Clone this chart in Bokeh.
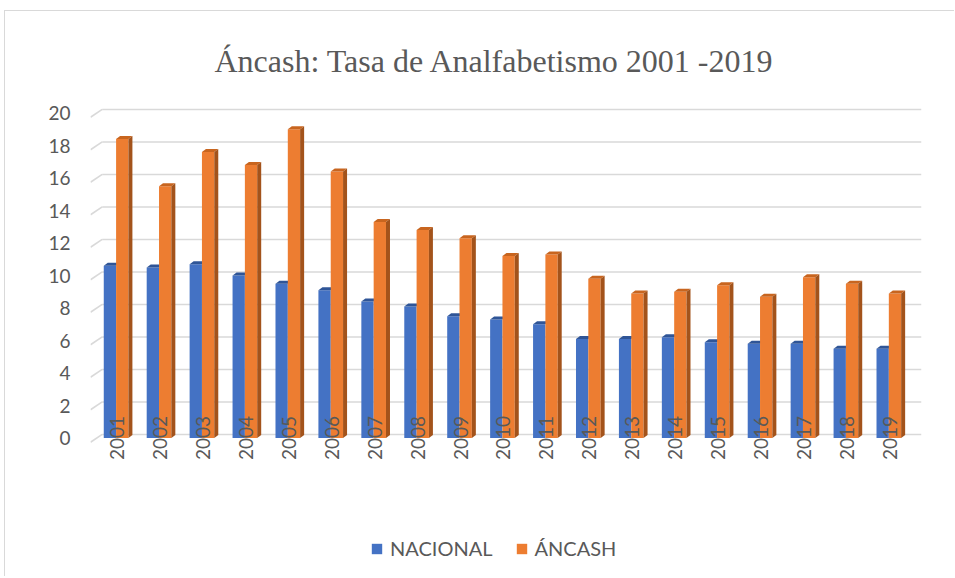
import numpy as np
from bokeh.plotting import figure
from bokeh.models import Range1d, FixedTicker, Legend, LegendItem
from bokeh.core.properties import value
from bokeh.embed import file_html
from bokeh.resources import INLINE

# ---- data ----
title_text = "Áncash: Tasa de Analfabetismo 2001 -2019"
years = ["2001", "2002", "2003", "2004", "2005", "2006", "2007", "2008", "2009", "2010",
         "2011", "2012", "2013", "2014", "2015", "2016", "2017", "2018", "2019"]
nacional = [10.6, 10.5, 10.7, 10.0, 9.5, 9.1, 8.4, 8.1, 7.5, 7.3,
            7.0, 6.1, 6.1, 6.2, 5.9, 5.8, 5.8, 5.5, 5.5]
ancash = [18.4, 15.5, 17.6, 16.8, 19.0, 16.4, 13.3, 12.8, 12.3, 11.2,
          11.3, 9.8, 8.9, 9.0, 9.4, 8.7, 9.9, 9.5, 8.9]
y_ticks = [0, 2, 4, 6, 8, 10, 12, 14, 16, 18, 20]

# ---- geometry helpers (pixel sizes converted to data units) ----
CAT_PX = 42.93
Y_PX = 16.25
FRAME_W = 831
X_END = FRAME_W / CAT_PX
DX = 4.0 / CAT_PX
DY = 3.0 / Y_PX
GRID_X0 = 11.7 / CAT_PX

idx = np.arange(len(years))
b_l = idx + 0.309
b_r = idx + 0.596
o_l = b_r
o_r = idx + 0.883
nac = np.array(nacional)
anc = np.array(ancash)

FONT = "Lato"
GREY = "#595959"

p = figure(width=950, height=566, output_backend="svg", toolbar_location=None,
           x_axis_location=None, min_border_left=85, min_border_right=34,
           min_border_top=89, min_border_bottom=0,
           x_range=Range1d(0, X_END),
           y_range=Range1d(-(577 - 437.5) / Y_PX, 20 + 12.5 / Y_PX))
p.outline_line_color = None
p.xgrid.visible = False
p.ygrid.visible = False
p.background_fill_color = "white"
p.border_fill_color = "white"
p.styles = {"border-top": "1px solid #d9d9d9", "border-left": "1px solid #d9d9d9",
            "margin-left": "4px", "margin-top": "10px"}

p.title.text = title_text
p.title.text_font = "Liberation Serif"
p.title.text_font_size = "32px"
p.title.text_font_style = "normal"
p.title.text_color = GREY
p.title.align = "left"
p.title.offset = 124
p.title.vertical_align = "top"
p.title.standoff = 40

# y axis
p.yaxis.ticker = FixedTicker(ticks=y_ticks)
p.yaxis.axis_line_color = None
p.yaxis.major_tick_line_color = None
p.yaxis.minor_tick_line_color = None
p.yaxis.major_tick_out = 0
p.yaxis.major_label_standoff = 20
p.yaxis.major_label_text_font = FONT
p.yaxis.major_label_text_font_size = "19px"
p.yaxis.major_label_text_color = GREY

# gridlines (back wall + small floor diagonal)
yt = np.array(y_ticks, dtype=float)
p.segment(x0=GRID_X0, y0=yt + 0.22, x1=X_END, y1=yt + 0.22, line_color="#d9d9d9", line_width=1.6)
p.segment(x0=0, y0=yt - 0.26, x1=GRID_X0, y1=yt + 0.22, line_color="#d9d9d9", line_width=1.6)

# NACIONAL bars
r_nac = p.quad(left=b_l, right=b_r, bottom=0, top=nac, fill_color="#4472C4", line_color=None)
p.patches(xs=[[l, r, r + DX, l + DX] for l, r in zip(b_l, b_r)],
          ys=[[v, v, v + DY, v + DY] for v in nac],
          fill_color="#2F5597", line_color=None)

# ÁNCASH bars
r_anc = p.quad(left=o_l, right=o_r, bottom=0, top=anc, fill_color="#ED7D31", line_color=None)
p.patches(xs=[[l, r, r + DX, l + DX] for l, r in zip(o_l, o_r)],
          ys=[[v, v, v + DY, v + DY] for v in anc],
          fill_color="#C8651F", line_color=None)
p.patches(xs=[[r, r, r + DX, r + DX] for r in o_r],
          ys=[[0, v, v + DY, DY] for v in anc],
          fill_color="#A3531B", line_color=None)

# category labels (rotated, over the bars)
p.text(x=idx + 0.62, y=np.zeros(len(years)), text=years, angle=np.pi / 2,
       text_align="center", text_baseline="middle", text_font=value(FONT),
       text_font_size="19px", text_color=GREY)

legend = Legend(items=[LegendItem(label="NACIONAL", renderers=[r_nac]),
                       LegendItem(label="ÁNCASH", renderers=[r_anc])],
                orientation="horizontal", location=(280, 17),
                glyph_width=13, glyph_height=13, label_standoff=7, spacing=22,
                padding=0, margin=0, border_line_color=None, background_fill_alpha=0,
                label_text_font=FONT, label_text_font_size="20px", label_text_color=GREY)
p.add_layout(legend)

open("out.html", "w").write(file_html(p, INLINE))
